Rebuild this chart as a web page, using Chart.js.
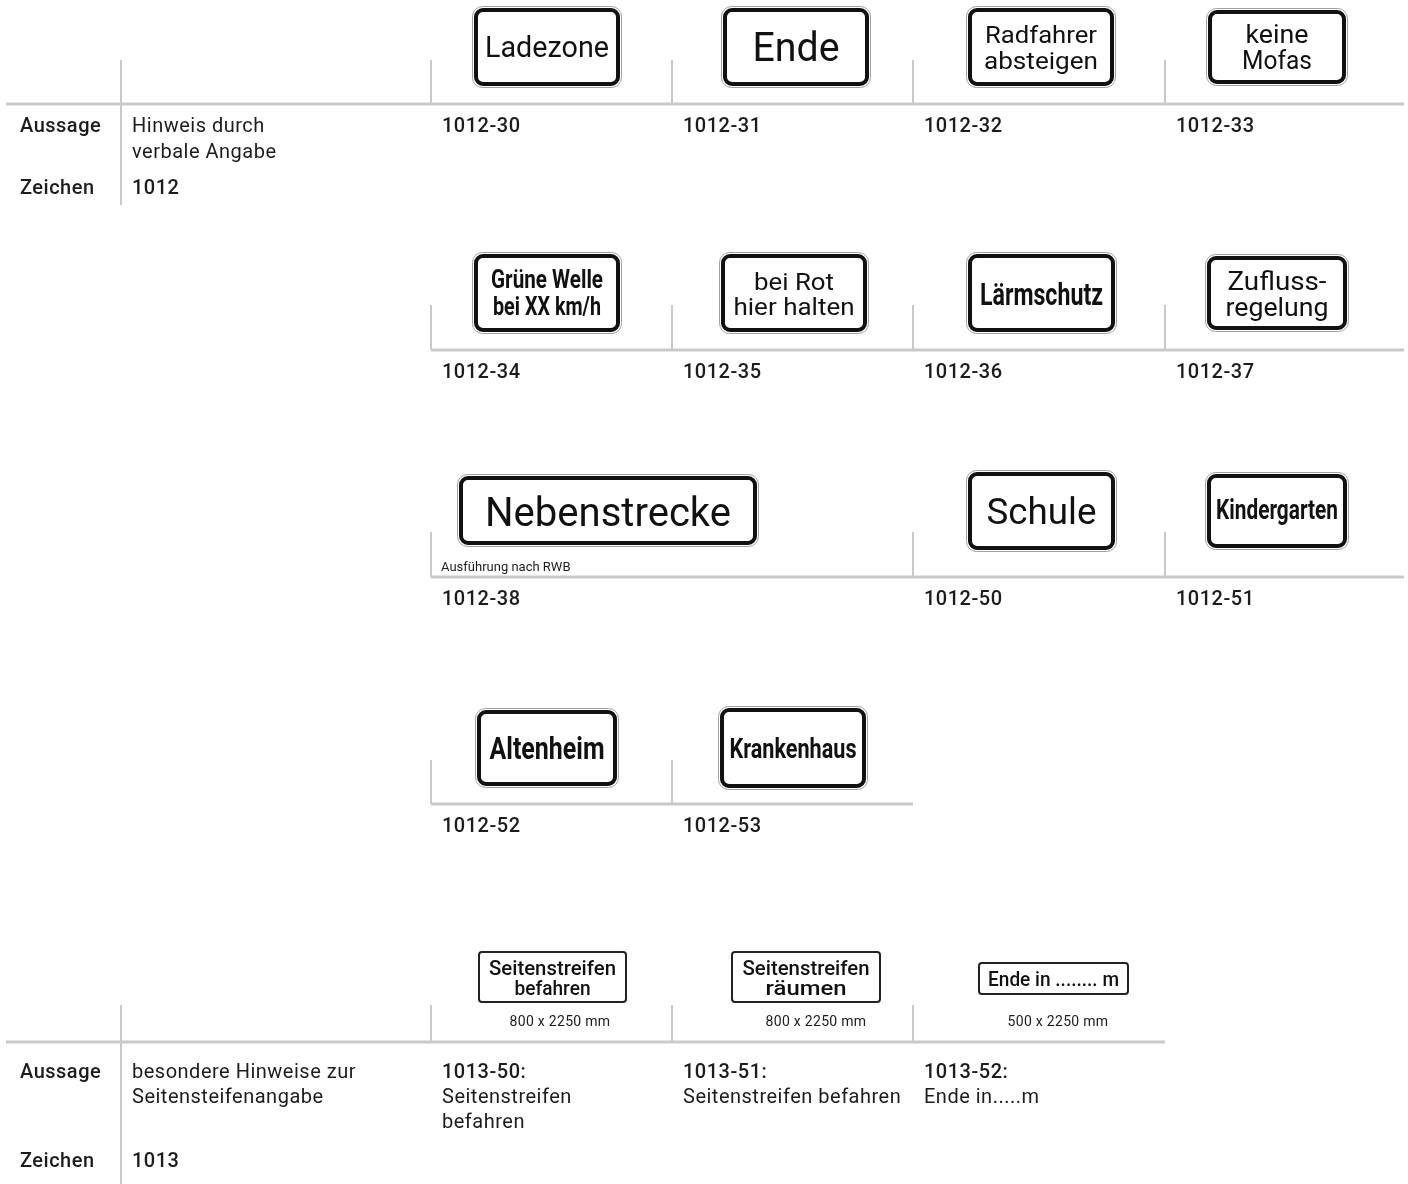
<!DOCTYPE html>
<html><head><meta charset="utf-8">
<script src="https://cdn.jsdelivr.net/npm/chart.js"></script>
<style>html,body{margin:0;padding:0;background:#fff}#wrap{width:1408px;height:1184px;position:relative}</style>
</head><body><div id="wrap"><canvas id="c"></canvas></div>
<script>
// ---------- DATA ----------
const rowLabels = ['Aussage', 'Zeichen'];
const statement1012 = ['Hinweis durch', 'verbale Angabe'];
const number1012 = '1012';
const codes1012 = ['1012-30','1012-31','1012-32','1012-33','1012-34','1012-35','1012-36','1012-37','1012-38','1012-50','1012-51','1012-52','1012-53'];
const texts1012 = [['Ladezone'],['Ende'],['Radfahrer','absteigen'],['keine','Mofas'],['Grüne Welle','bei XX km/h'],['bei Rot','hier halten'],['Lärmschutz'],['Zufluss-','regelung'],['Nebenstrecke'],['Schule'],['Kindergarten'],['Altenheim'],['Krankenhaus']];
const notes1012 = ['','','','','','','','','Ausführung nach RWB','','','',''];
const statement1013 = ['besondere Hinweise zur', 'Seitensteifenangabe'];
const number1013 = '1013';
const codes1013 = ['1013-50:','1013-51:','1013-52:'];
const texts1013 = [['Seitenstreifen','befahren'],['Seitenstreifen','räumen'],['Ende in ........ m']];
const sizes1013 = ['800 x 2250 mm','800 x 2250 mm','500 x 2250 mm'];
const meanings1013 = [['Seitenstreifen','befahren'],['Seitenstreifen befahren'],['Ende in.....m']];

// ---------- LAYOUT (page units) ----------
const L = {
  colX: [431, 672, 913, 1165],
  labelX: 20, descX: 132, divX: 121,
  rows1012: [
    {lineY:104, x0:6,   x1:1404, cols:[0,1,2,3], top:60},
    {lineY:350, x0:431, x1:1404, cols:[0,1,2,3], top:305},
    {lineY:577, x0:431, x1:1404, cols:[0,2,3],   top:532},
    {lineY:804, x0:431, x1:913,  cols:[0,1],     top:760}
  ],
  itemCol1012: [0,1,2,3, 0,1,2,3, 0,2,3, 0,1],
  itemRow1012: [0,0,0,0, 1,1,1,1, 2,2,2, 3,3],
  box1012: [[472,6,622,88],[721,6,871,88],[966,6,1116,88],[1206,8,1348,86],
            [472,252,622,334],[719,252,869,334],[966,252,1117,334],[1205,254,1349,332],
            [457,474,759,547],[966,470,1117,552],[1205,472,1349,550],
            [475,708,619,788],[718,706,868,790]],
  font1012: [
    {s:29,w:'400',dy:[0],tw:[124]},
    {s:40,w:'400',dy:[0],tw:[87]},
    {s:24,w:'400',dy:[-13,13],tw:[112,114]},
    {s:25,w:'400',dy:[-13,13],tw:[63,70]},
    {s:25,w:'700',dy:[-14,13],tw:[112,108]},
    {s:24,w:'400',dy:[-12,13],tw:[80,121]},
    {s:31,w:'700',dy:[1],tw:[123]},
    {s:26,w:'400',dy:[-12,14],tw:[99,103]},
    {s:41,w:'400',dy:[1],tw:[246]},
    {s:37,w:'400',dy:[0],tw:[110]},
    {s:27,w:'700',dy:[-2],tw:[122]},
    {s:31,w:'700',dy:[0],tw:[115]},
    {s:27,w:'700',dy:[0],tw:[127]}
  ],
  sec1013: {lineY:1042, x0:6, x1:1165, cols:[0,1,2], top:1005},
  box1013: [[478,951,627,1003],[731,951,881,1003],[978,962,1129,995]],
  font1013: [
    {s:20,dy:[-9,11],tw:[127,76]},
    {s:20,dy:[-9,11],tw:[127,81]},
    {s:20,dy:[0],tw:[131]}
  ],
  sizeCx: [560, 816, 1058], sizeY: 1021,
  y1012: {aus:125, aus2:151, zei:187, divBottom:205},
  y1013: {aus:1071, step:25, zei:1160, divBottom:1184}
};

const FONT = 'Roboto, "Noto Sans", "DejaVu Sans", sans-serif';
const TXT = '#1c1c1c';
const GRID = '#c9c9c9';
const CAP = 0.711;

function rr(ctx, x, y, w, h, r) {
  ctx.beginPath();
  ctx.moveTo(x + r, y);
  ctx.arcTo(x + w, y, x + w, y + h, r);
  ctx.arcTo(x + w, y + h, x, y + h, r);
  ctx.arcTo(x, y + h, x, y, r);
  ctx.arcTo(x, y, x + w, y, r);
  ctx.closePath();
}

// text centred vertically on cap height, optionally stretched to a target width
function drawT(ctx, text, x, cy, size, weight, align, target, spacing) {
  ctx.save();
  ctx.font = weight + ' ' + size + 'px ' + FONT;
  ctx.letterSpacing = (spacing || 0) + 'px';
  ctx.textBaseline = 'alphabetic';
  ctx.textAlign = align;
  const base = cy + size * CAP / 2;
  if (target) {
    const w = ctx.measureText(text).width;
    ctx.translate(x, base);
    ctx.scale(target / w, 1);
    ctx.fillText(text, 0, 0);
  } else {
    ctx.fillText(text, x, base);
  }
  ctx.restore();
}

const tablePlugin = {
  id: 'tablePlugin',
  afterDraw(chart) {
    const ctx = chart.ctx;
    const xs = chart.scales.x, ys = chart.scales.y;
    const X = v => xs.getPixelForValue(v);
    const Y = v => ys.getPixelForValue(v);

    ctx.save();
    ctx.strokeStyle = GRID;
    function hline(y, x0, x1) { ctx.lineWidth = 3; ctx.beginPath(); ctx.moveTo(X(x0), Y(y)); ctx.lineTo(X(x1), Y(y)); ctx.stroke(); }
    function vline(x, y0, y1) { ctx.lineWidth = 2; ctx.beginPath(); ctx.moveTo(X(x), Y(y0)); ctx.lineTo(X(x), Y(y1)); ctx.stroke(); }

    L.rows1012.forEach(r => {
      hline(r.lineY, r.x0, r.x1);
      r.cols.forEach(c => vline(L.colX[c], r.top, r.lineY));
    });
    vline(L.divX, L.rows1012[0].top, L.y1012.divBottom);
    const s2 = L.sec1013;
    hline(s2.lineY, s2.x0, s2.x1);
    s2.cols.forEach(c => vline(L.colX[c], s2.top, s2.lineY));
    vline(L.divX, s2.top, L.y1013.divBottom);

    const BS = 20, SP = 0.5;
    ctx.fillStyle = TXT;
    drawT(ctx, rowLabels[0], X(L.labelX), Y(L.y1012.aus), BS, '500', 'left', 0, SP);
    drawT(ctx, rowLabels[1], X(L.labelX), Y(L.y1012.zei), BS, '500', 'left', 0, SP);
    drawT(ctx, rowLabels[0], X(L.labelX), Y(L.y1013.aus), BS, '500', 'left', 0, SP);
    drawT(ctx, rowLabels[1], X(L.labelX), Y(L.y1013.zei), BS, '500', 'left', 0, SP);
    drawT(ctx, statement1012[0], X(L.descX), Y(L.y1012.aus), BS, '400', 'left', 0, SP);
    drawT(ctx, statement1012[1], X(L.descX), Y(L.y1012.aus2), BS, '400', 'left', 0, SP);
    drawT(ctx, statement1013[0], X(L.descX), Y(L.y1013.aus), BS, '400', 'left', 0, SP);
    drawT(ctx, statement1013[1], X(L.descX), Y(L.y1013.aus + L.y1013.step), BS, '400', 'left', 0, SP);
    drawT(ctx, number1012, X(L.descX), Y(L.y1012.zei), BS, '500', 'left', 0, SP);
    drawT(ctx, number1013, X(L.descX), Y(L.y1013.zei), BS, '500', 'left', 0, SP);

    codes1012.forEach((code, i) => {
      const row = L.rows1012[L.itemRow1012[i]];
      const col = L.itemCol1012[i];
      ctx.fillStyle = TXT;
      drawT(ctx, code, X(L.colX[col] + 11), Y(row.lineY + 21), BS, '500', 'left', 0, SP);
      if (notes1012[i]) drawT(ctx, notes1012[i], X(L.colX[col] + 10), Y(row.lineY - 11), 13, '400', 'left', 0, 0);
      const b = L.box1012[i];
      const x0 = X(b[0]), y0 = Y(b[1]), x1 = X(b[2]), y1 = Y(b[3]);
      const w = x1 - x0, h = y1 - y0;
      ctx.fillStyle = '#fff';
      rr(ctx, x0 + 0.5, y0 + 0.5, w - 1, h - 1, 10);
      ctx.fill();
      ctx.lineWidth = 1; ctx.strokeStyle = '#a0a0a0'; ctx.stroke();
      rr(ctx, x0 + 4, y0 + 4, w - 8, h - 8, 7);
      ctx.lineWidth = 4; ctx.strokeStyle = '#111'; ctx.stroke();
      const f = L.font1012[i];
      ctx.fillStyle = '#111';
      const cx = (x0 + x1) / 2, cy = (y0 + y1) / 2;
      texts1012[i].forEach((t, k) => drawT(ctx, t, cx, cy + f.dy[k], f.s, f.w, 'center', f.tw[k], 0));
    });

    codes1013.forEach((code, i) => {
      const col = s2.cols[i];
      const b = L.box1013[i];
      const x0 = X(b[0]), y0 = Y(b[1]), x1 = X(b[2]), y1 = Y(b[3]);
      const w = x1 - x0, h = y1 - y0;
      ctx.fillStyle = '#fff';
      rr(ctx, x0 + 1, y0 + 1, w - 2, h - 2, 3);
      ctx.fill();
      ctx.lineWidth = 2; ctx.strokeStyle = '#222'; ctx.stroke();
      const f = L.font1013[i];
      ctx.fillStyle = '#111';
      const cx = (x0 + x1) / 2, cy = (y0 + y1) / 2;
      texts1013[i].forEach((t, k) => drawT(ctx, t, cx, cy + f.dy[k], f.s, '500', 'center', f.tw[k], 0));

      ctx.fillStyle = TXT;
      drawT(ctx, sizes1013[i], X(L.sizeCx[i]), Y(L.sizeY), 14, '400', 'center', 0, 0.3);
      drawT(ctx, code, X(L.colX[col] + 11), Y(L.y1013.aus), BS, '500', 'left', 0, SP);
      meanings1013[i].forEach((t, k) => drawT(ctx, t, X(L.colX[col] + 11), Y(L.y1013.aus + L.y1013.step * (k + 1)), BS, '400', 'left', 0, SP));
    });
    ctx.restore();
  }
};

new Chart(document.getElementById('c'), {
  type: 'scatter',
  data: { datasets: [{ data: [], pointRadius: 0 }] },
  options: {
    responsive: true,
    maintainAspectRatio: false,
    animation: false,
    layout: { padding: 0 },
    plugins: { legend: { display: false }, tooltip: { enabled: false }, title: { display: false } },
    scales: {
      x: { type: 'linear', min: 0, max: 1408, display: false },
      y: { type: 'linear', min: 0, max: 1184, reverse: true, display: false }
    }
  },
  plugins: [tablePlugin]
});
</script>
</body></html>
